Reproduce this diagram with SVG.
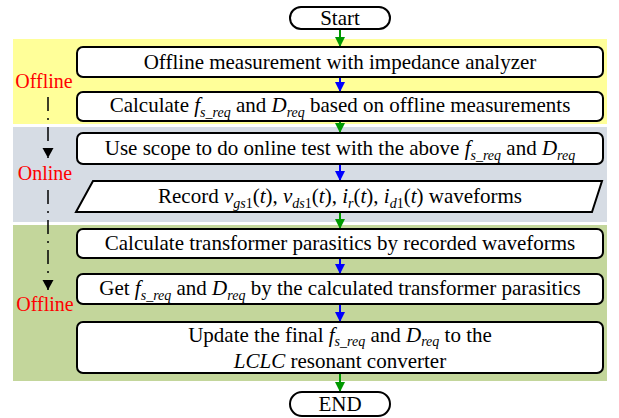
<svg xmlns="http://www.w3.org/2000/svg" width="619" height="418" viewBox="0 0 619 418">
<style>
text{font-family:"Liberation Serif","DejaVu Serif","Times New Roman",serif}
.t{font-size:21px;fill:#000;text-anchor:middle}
.lbl{font-size:20px;fill:#ff0000;text-anchor:middle}
.i{font-style:italic}
.s{font-size:14px}
.box{fill:#fff;stroke:#000;stroke-width:2}
.g{stroke:#009900;stroke-width:2;fill:none}
.b{stroke:#0000ff;stroke-width:2;fill:none}
.dd{stroke:#000;stroke-width:1.5;fill:none;stroke-dasharray:14 7 2 7}
</style>
<defs>
<marker id="ag" markerUnits="userSpaceOnUse" markerWidth="12" markerHeight="10" refX="10" refY="5" orient="auto"><path d="M0,0 L10,5 L0,10 z" fill="#009900"/></marker>
<marker id="ab" markerUnits="userSpaceOnUse" markerWidth="12" markerHeight="10" refX="10" refY="5" orient="auto"><path d="M0,0 L10,5 L0,10 z" fill="#0000ff"/></marker>
<marker id="ak" markerUnits="userSpaceOnUse" markerWidth="12" markerHeight="12" refX="10" refY="5.5" orient="auto"><path d="M0,0 L10,5.5 L0,11 z" fill="#000"/></marker>
</defs>
<g id="backgrounds">
<rect x="13" y="39" width="594" height="85" fill="#ffff99"/>
<rect x="13" y="127" width="594" height="95" fill="#d6dce4"/>
<rect x="13" y="225" width="594" height="156" fill="#c3d69b"/>
</g>
<g id="phase-labels">
<text class="lbl" x="44" y="88">Offline</text>
<text class="lbl" x="45" y="180">Online</text>
<text class="lbl" x="45" y="311">Offline</text>
<line class="dd" x1="48" y1="97" x2="48" y2="158" marker-end="url(#ak)"/>
<line class="dd" x1="48" y1="190" x2="48" y2="290" marker-end="url(#ak)"/>
</g>
<g id="connectors">
<line class="g" x1="340" y1="29" x2="340" y2="47" marker-end="url(#ag)"/>
<line class="b" x1="340" y1="77" x2="340" y2="92" marker-end="url(#ab)"/>
<line class="g" x1="340" y1="121" x2="340" y2="133" marker-end="url(#ag)"/>
<line class="b" x1="340" y1="164" x2="340" y2="181" marker-end="url(#ab)"/>
<line class="g" x1="340" y1="212" x2="340" y2="229" marker-end="url(#ag)"/>
<line class="b" x1="340" y1="258" x2="340" y2="274" marker-end="url(#ab)"/>
<line class="b" x1="340" y1="304" x2="340" y2="322" marker-end="url(#ab)"/>
<line class="g" x1="340" y1="373" x2="340" y2="392" marker-end="url(#ag)"/>
</g>
<g id="start">
<rect class="box" x="290" y="7" width="100" height="22" rx="11"/>
<text class="t" x="340" y="25">Start</text>
</g>
<g id="step1">
<rect class="box" x="77" y="47" width="526" height="30" rx="6"/>
<text class="t" x="340" y="69">Offline measurement with impedance analyzer</text>
</g>
<g id="step2">
<rect class="box" x="77" y="92" width="526" height="29" rx="6"/>
<text class="t" x="340" y="112">Calculate <tspan class="i">f</tspan><tspan class="i s" dy="5">s_req</tspan><tspan dy="-5"> and </tspan><tspan class="i">D</tspan><tspan class="i s" dy="5">req</tspan><tspan dy="-5"> based on offline measurements</tspan></text>
</g>
<g id="step3">
<rect class="box" x="77" y="133" width="526" height="31" rx="6"/>
<text class="t" x="340" y="155">Use scope to do online test with the above <tspan class="i">f</tspan><tspan class="i s" dy="5">s_req</tspan><tspan dy="-5"> and </tspan><tspan class="i">D</tspan><tspan class="i s" dy="5">req</tspan></text>
</g>
<g id="step4">
<path class="box" d="M93,181 L602,181 L592,212 L76,212 Z"/>
<text class="t" x="340" y="203">Record <tspan class="i">v</tspan><tspan class="i s" dy="5">gs</tspan><tspan class="s">1</tspan><tspan dy="-5">(</tspan><tspan class="i">t</tspan><tspan>), </tspan><tspan class="i">v</tspan><tspan class="i s" dy="5">ds</tspan><tspan class="s">1</tspan><tspan dy="-5">(</tspan><tspan class="i">t</tspan><tspan>), </tspan><tspan class="i">i</tspan><tspan class="i s" dy="5">r</tspan><tspan dy="-5">(</tspan><tspan class="i">t</tspan><tspan>), </tspan><tspan class="i">i</tspan><tspan class="i s" dy="5">d</tspan><tspan class="s">1</tspan><tspan dy="-5">(</tspan><tspan class="i">t</tspan><tspan>) waveforms</tspan></text>
</g>
<g id="step5">
<rect class="box" x="77" y="229" width="526" height="29" rx="6"/>
<text class="t" x="340" y="250">Calculate transformer parasitics by recorded waveforms</text>
</g>
<g id="step6">
<rect class="box" x="77" y="274" width="526" height="30" rx="6"/>
<text class="t" x="340" y="295">Get <tspan class="i">f</tspan><tspan class="i s" dy="5">s_req</tspan><tspan dy="-5"> and </tspan><tspan class="i">D</tspan><tspan class="i s" dy="5">req</tspan><tspan dy="-5"> by the calculated transformer parasitics</tspan></text>
</g>
<g id="step7">
<rect class="box" x="77" y="322" width="526" height="51" rx="6"/>
<text class="t" x="340" y="342">Update the final <tspan class="i">f</tspan><tspan class="i s" dy="4">s_req</tspan><tspan dy="-4"> and </tspan><tspan class="i">D</tspan><tspan class="i s" dy="4">req</tspan><tspan dy="-4"> to the</tspan></text>
<text class="t" x="340" y="368"><tspan class="i">LCLC</tspan> resonant converter</text>
</g>
<g id="end">
<rect class="box" x="290" y="392" width="100" height="24" rx="12"/>
<text class="t" x="340" y="411">END</text>
</g>
</svg>
